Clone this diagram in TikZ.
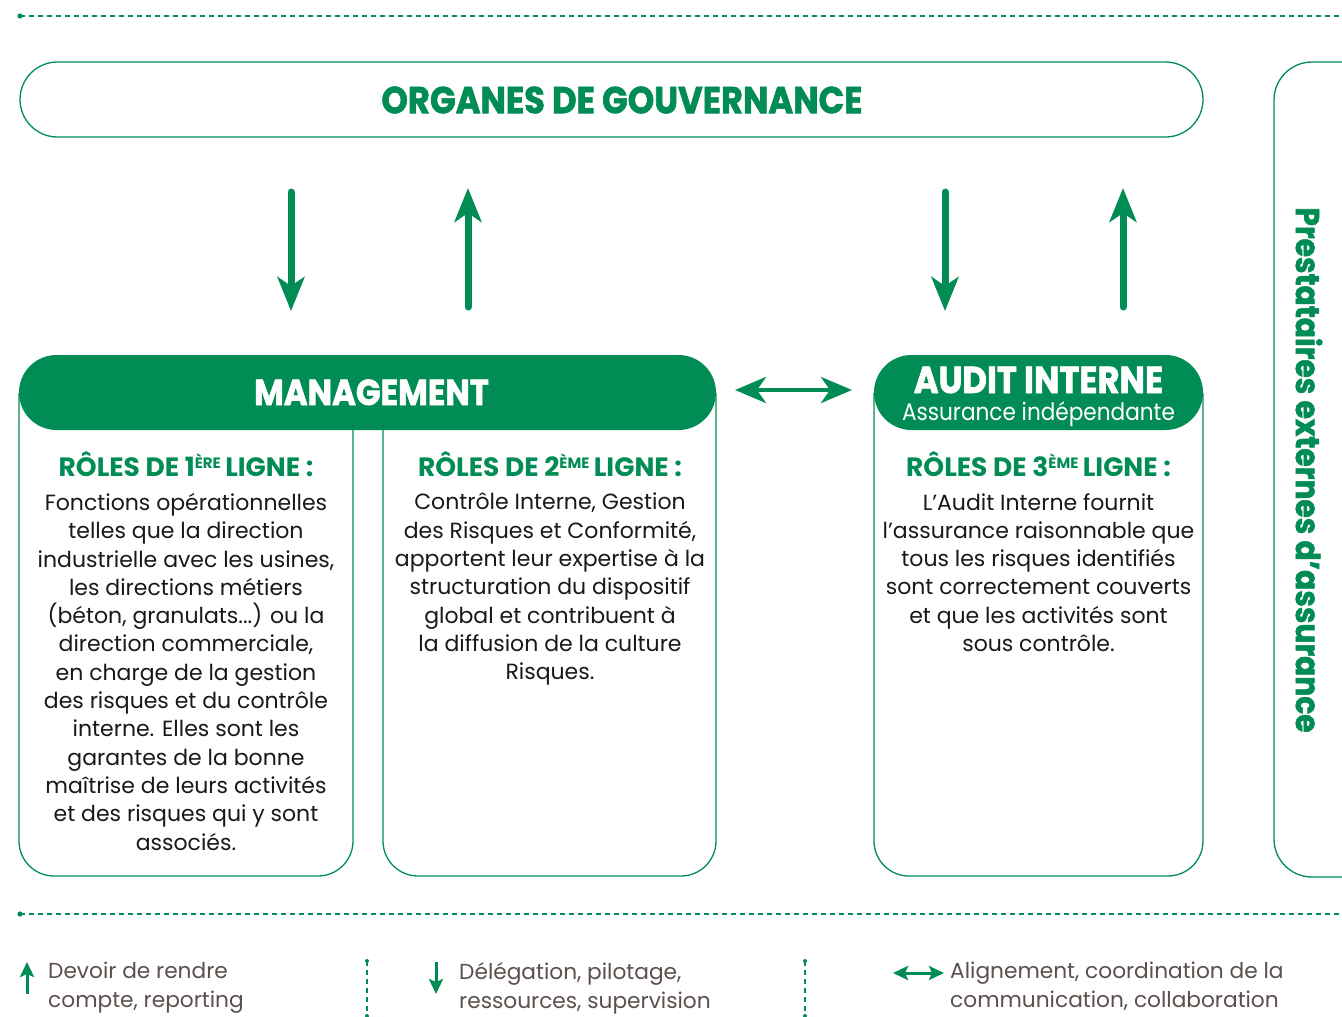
\documentclass[tikz,border=0pt]{standalone}
\usepackage{fontspec}
\setmainfont{Poppins}
\newfontfamily\narrow{Poppins}[FakeStretch=0.9]
\newfontfamily\heavy{Poppins}[FakeStretch=0.9, BoldFeatures={FakeBold=1.6}]
\usetikzlibrary{arrows.meta}
\definecolor{vert}{RGB}{0,140,84}
\definecolor{gris}{RGB}{92,80,77}
\definecolor{noir}{RGB}{25,25,25}
\newcommand{\fs}[2]{\fontsize{#1}{#2}\selectfont}
\tikzset{
  outline/.style={draw=vert, line width=1.3pt},
  pill/.style={rounded corners=37.5pt, minimum height=75pt, inner sep=0pt},
  headfill/.style={pill, fill=vert, text=white},
  headtxt/.style={text=white, inner sep=0pt, anchor=base},
  rolehead/.style={text=vert, font=\fs{26.5}{29}\bfseries, inner sep=0pt, anchor=base},
  bodytxt/.style={text=noir, font=\fs{22}{28.3}, align=center, inner sep=0pt, anchor=north},
  legtxt/.style={text=gris, font=\fs{21.7}{29}, align=left, inner sep=0pt, anchor=north west},
  bigarrow/.style={vert, line width=7pt, line cap=round, -{Stealth[length=34pt,width=27pt,inset=9pt]}},
  duoarrow/.style={vert, line width=4.5pt, {Stealth[length=31pt,width=26pt,inset=9pt]}-{Stealth[length=31pt,width=26pt,inset=9pt]}},
  smallarrow/.style={vert, line width=3pt, -{Stealth[length=15pt,width=14pt,inset=3pt]}},
  smallduo/.style={vert, line width=3pt, {Stealth[length=15pt,width=14pt,inset=3pt]}-{Stealth[length=15pt,width=14pt,inset=3pt]}},
  sepline/.style={vert, line width=1.1pt, dash pattern=on 5pt off 4pt},
}
\begin{document}
\begin{tikzpicture}[x=1pt,y=-1pt]
\useasboundingbox (0,0) rectangle (1342,1017);
\fill[white] (0,0) rectangle (1342,1017);

% dashed separators
\draw[sepline] (20,16) -- (1342,16);
\fill[vert] (20,16) circle (2.6pt);
\draw[sepline] (20,914) -- (1342,914);
\fill[vert] (20,914) circle (2.6pt);

% governance
\node[outline, pill, minimum width=1183pt] (gov) at (611.5,99.5) {};
\node[text=vert, font=\heavy\fs{37.5}{40}\bfseries, inner sep=0pt] (govt) at (622,100) {ORGANES DE GOUVERNANCE};

% right external box
\draw[outline, rounded corners=38pt] (1400,62) -- (1274,62) -- (1274,877) -- (1400,877);
\node[rotate=-90, text=vert, font=\heavy\fs{33}{36}\bfseries, inner sep=0pt] (ext) at (1309,470) {Prestataires externes d’assurance};

% columns
\draw[outline, rounded corners=35pt] (19,393) -- (19,876) -- (353,876) -- (353,420);
\draw[outline, rounded corners=35pt] (383,420) -- (383,876) -- (716,876) -- (716,393);
\draw[outline, rounded corners=35pt] (874,393) -- (874,876) -- (1203,876) -- (1203,393);

% headers
\node[headfill, minimum width=697pt] (mgmt) at (367.5,392.5) {};
\node[headtxt, font=\heavy\fs{36}{38}\bfseries] (mgmtt) at (371.5,405) {MANAGEMENT};
\node[headfill, minimum width=329pt] (audit) at (1038.5,392.5) {};
\node[headtxt, font=\heavy\fs{37.5}{40}\bfseries, text depth=0pt] (auditt) at (1038.5,393) {AUDIT INTERNE};
\node[headtxt, font=\narrow\fs{24}{26}] (audits) at (1038.5,420.5) {Assurance indépendante};

% arrows gov <-> management / audit
\coordinate (a1s) at (291,192); \coordinate (a1e) at (291,311);
\coordinate (a2s) at (468,307); \coordinate (a2e) at (468,188);
\coordinate (a3s) at (945,192); \coordinate (a3e) at (945,311);
\coordinate (a4s) at (1123,307); \coordinate (a4e) at (1123,188);
\draw[bigarrow] (a1s) -- (a1e);
\draw[bigarrow] (a2s) -- (a2e);
\draw[bigarrow] (a3s) -- (a3e);
\draw[bigarrow] (a4s) -- (a4e);
\coordinate (d1) at (735,390); \coordinate (d2) at (852,390);
\draw[duoarrow] (d1) -- (d2);

% role headings
\node[rolehead] (r1) at (186,476) {RÔLES DE 1\raisebox{7.5pt}{\fs{15}{16}ÈRE}\,LIGNE :};
\node[rolehead] (r2) at (550,476) {RÔLES DE 2\raisebox{7.5pt}{\fs{15}{16}ÈME}\,LIGNE :};
\node[rolehead] (r3) at (1038.5,476) {RÔLES DE 3\raisebox{7.5pt}{\fs{15}{16}ÈME}\,LIGNE :};

% body texts
\node[bodytxt] (b1) at (186,493) {Fonctions opérationnelles\\telles que la direction\\industrielle avec les usines,\\les directions métiers\\(béton, granulats...) ou la\\direction commerciale,\\en charge de la gestion\\des risques et du contrôle\\interne. Elles sont les\\garantes de la bonne\\maîtrise de leurs activités\\et des risques qui y sont\\associés.};
\node[bodytxt] (b2) at (550,493) {Contrôle Interne, Gestion\\des Risques et Conformité,\\apportent leur expertise à la\\structuration du dispositif\\global et contribuent à\\la diffusion de la culture\\Risques.};
\node[bodytxt] (b3) at (1038.5,493) {L’Audit Interne fournit\\l’assurance raisonnable que\\tous les risques identifiés\\sont correctement couverts\\et que les activités sont\\sous contrôle.};

% legend
\coordinate (l1s) at (27,994); \coordinate (l1e) at (27,962);
\draw[smallarrow] (l1s) -- (l1e);
\node[legtxt] (lt1) at (48,962) {Devoir de rendre\\compte, reporting};
\draw[sepline] (367,961) -- (367,1017);
\fill[vert] (367,961) circle (2pt);
\fill[vert] (367,1016) circle (2pt);
\coordinate (l2s) at (436,962); \coordinate (l2e) at (436,994);
\draw[smallarrow] (l2s) -- (l2e);
\node[legtxt] (lt2) at (459,962) {Délégation, pilotage,\\ressources, supervision};
\draw[sepline] (805,961) -- (805,1017);
\fill[vert] (805,961) circle (2pt);
\fill[vert] (805,1016) circle (2pt);
\coordinate (l3s) at (893,973); \coordinate (l3e) at (944,973);
\draw[smallduo] (l3s) -- (l3e);
\node[legtxt] (lt3) at (950,962) {Alignement, coordination de la\\communication, collaboration};
\end{tikzpicture}
\end{document}
